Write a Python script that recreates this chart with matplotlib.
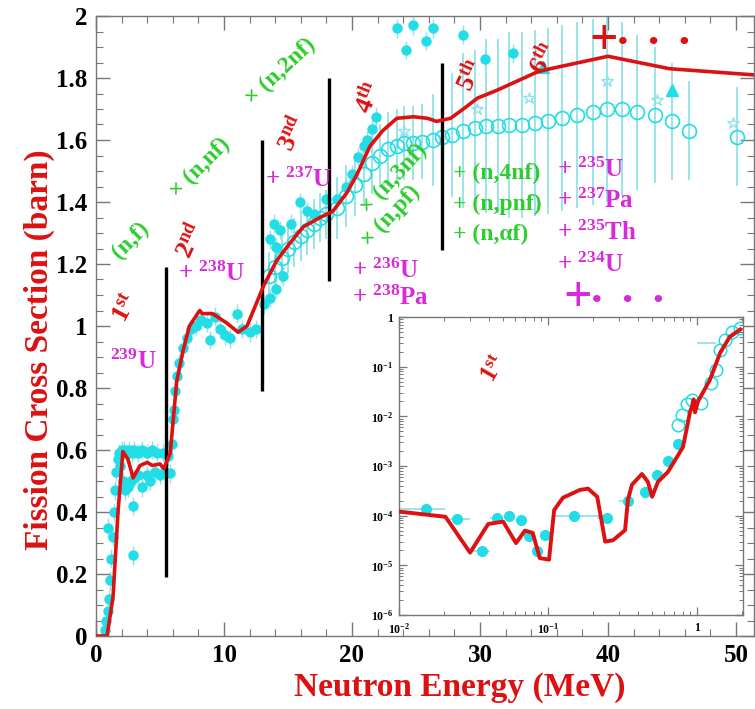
import math
import matplotlib
matplotlib.use('Agg')
import matplotlib.pyplot as plt
from matplotlib.ticker import MultipleLocator, FuncFormatter, LogLocator, NullFormatter, FixedLocator

plt.rcParams['font.family'] = ['Liberation Serif', 'DejaVu Serif']
plt.rcParams['font.weight'] = 'bold'
plt.rcParams['mathtext.fontset'] = 'custom'
plt.rcParams['mathtext.rm'] = 'Liberation Serif:bold'
plt.rcParams['mathtext.bf'] = 'Liberation Serif:bold'
plt.rcParams['mathtext.it'] = 'Liberation Serif:bold:italic'
plt.rcParams['mathtext.default'] = 'rm'

RED = '#dd1111'
CYAN = '#22dde6'
CYAN_BAR = '#8fe3e8'
GREEN = '#2ecc2e'
MAGENTA = '#d92ad9'
SPINE = '#777777'

# ---------------- main panel data ----------------
calc_E = [0.0, 0.86, 1.33, 1.72, 2.1, 2.5, 2.9, 3.44, 4.0, 4.4, 5.0, 5.3, 5.8, 6.3, 6.8,
          7.3, 8.1, 8.3, 9.1, 10.2, 11.1, 11.8, 12.6, 12.8, 13.1, 14.1, 15.2, 16.2, 17.5,
          18.5, 19.6, 20.4, 21.4, 22.4, 23.5, 24.8, 25.9, 26.6, 27.7, 28.7, 29.8, 31.3,
          32.9, 34.5, 35.5, 40.0, 44.8, 51.4]
calc_sig = [0.0, 0.0, 0.126, 0.40, 0.595, 0.57, 0.51, 0.55, 0.56, 0.55, 0.555, 0.54, 0.59,
            0.82, 0.92, 1.00, 1.05, 1.04, 1.04, 1.01, 0.98, 1.00, 1.08, 1.10, 1.13, 1.21,
            1.27, 1.32, 1.35, 1.37, 1.43, 1.49, 1.58, 1.63, 1.67, 1.675, 1.67, 1.66, 1.67,
            1.70, 1.735, 1.76, 1.79, 1.82, 1.83, 1.87, 1.83, 1.81]

fill_E = [0.7, 0.8, 0.9, 1.0, 1.1, 0.95, 1.2, 1.3, 1.4, 1.5, 1.6, 1.7, 1.8, 2.0, 2.2, 2.4,
          2.6, 2.8, 3.0, 3.3, 3.6, 4.0, 4.4, 4.8, 5.2, 5.6,
          1.9, 2.1, 2.3, 2.5, 2.7, 3.0, 3.3, 3.6, 4.0, 4.2, 4.6, 5.0, 5.4, 5.8,
          2.9, 2.9,
          5.9, 6.0, 6.1, 6.2, 6.3, 6.5, 6.8, 7.1, 7.4, 7.8, 8.2, 8.7, 8.9, 9.3, 9.7, 10.1,
          10.5, 11.0, 11.4, 12.0, 12.5, 13.1, 13.6, 14.1, 14.6,
          13.6, 13.9, 14.1, 14.4, 15.2, 15.9, 16.5, 17.0, 18.0, 18.8, 19.5, 20.0, 20.5,
          20.9, 21.2, 21.6, 21.9,
          23.5, 24.8, 26.3, 24.2, 25.8, 28.7, 30.4, 32.6]
fill_sig = [0.02, 0.05, 0.08, 0.12, 0.18, 0.35, 0.25, 0.32, 0.40, 0.47, 0.53, 0.57, 0.59,
            0.60, 0.60, 0.59, 0.60, 0.59, 0.60, 0.59, 0.60, 0.59, 0.60, 0.59, 0.59, 0.58,
            0.55, 0.50, 0.47, 0.48, 0.50, 0.51, 0.52, 0.48, 0.52, 0.50, 0.53, 0.52, 0.53,
            0.525,
            0.42, 0.26,
            0.62, 0.70, 0.73, 0.79, 0.84, 0.88, 0.93, 0.96, 0.99, 1.00, 1.02, 1.01, 0.955,
            1.03, 0.99, 0.97, 0.96, 1.04, 0.99, 0.98, 0.99, 1.07, 1.09, 1.12, 1.16,
            1.28, 1.33, 1.255, 1.31, 1.33, 1.40, 1.37, 1.36, 1.41, 1.41, 1.45, 1.49, 1.545,
            1.58, 1.60, 1.635, 1.675,
            1.96, 1.97, 1.96, 1.89, 1.92, 1.94, 1.86, 1.88]

open_E = [13.5, 14.0, 14.5, 15.0, 15.5, 16.0, 16.5, 17.0, 17.5, 18.0, 18.8, 19.5, 20.2,
          20.9, 21.6, 22.2, 22.8, 23.5, 24.1, 24.8, 25.5, 26.3, 27.0, 27.8, 28.7, 29.6,
          30.5, 31.4, 32.3, 33.3, 34.3, 35.3, 36.4, 37.6, 38.8, 39.9, 41.1, 42.3, 43.7,
          45.0, 46.3, 50.1]
open_sig = [1.16, 1.19, 1.22, 1.25, 1.27, 1.29, 1.31, 1.33, 1.35, 1.36, 1.38, 1.42, 1.455,
            1.49, 1.525, 1.55, 1.57, 1.58, 1.59, 1.59, 1.595, 1.60, 1.61, 1.615, 1.63, 1.64,
            1.645, 1.645, 1.65, 1.65, 1.655, 1.66, 1.67, 1.68, 1.69, 1.70, 1.70, 1.69, 1.68,
            1.66, 1.63, 1.61]
open_err = [0.08, 0.08, 0.08, 0.08, 0.08, 0.08, 0.08, 0.08, 0.08, 0.08, 0.10, 0.10, 0.10,
            0.10, 0.10, 0.10, 0.12, 0.12, 0.12, 0.12, 0.12, 0.15, 0.15, 0.20, 0.25, 0.25,
            0.28, 0.28, 0.30, 0.30, 0.30, 0.30, 0.30, 0.30, 0.30, 0.30, 0.28, 0.25, 0.22,
            0.19, 0.16, 0.16]

star_E = [24.1, 29.8, 33.8, 39.9, 43.8, 49.8]
star_sig = [1.63, 1.70, 1.735, 1.79, 1.73, 1.655]
tri_E = [34.9, 45.0]
tri_sig = [1.835, 1.76]

threshold_E = [5.5, 13.0, 18.2, 27.0]
threshold_lo = [0.19, 0.79, 1.145, 1.245]
threshold_hi = [1.19, 1.60, 1.80, 1.85]

x_ticks = [0, 10, 20, 30, 40, 50]
y_ticks = [0, 0.2, 0.4, 0.6, 0.8, 1.0, 1.2, 1.4, 1.6, 1.8, 2.0]

# ---------------- inset data ----------------
in_calc_E = [0.0102, 0.0205, 0.030, 0.0397, 0.050, 0.061, 0.070, 0.079, 0.088, 0.1016,
             0.11, 0.126, 0.164, 0.186, 0.214, 0.242, 0.273, 0.329, 0.344, 0.366, 0.427,
             0.468, 0.50, 0.547, 0.638, 0.805, 0.897, 0.92, 0.95, 0.97, 1.016, 1.22, 1.43,
             1.66, 1.95]
in_calc_sig = [1.2e-4, 9.5e-5, 1.8e-5, 6.8e-5, 7.6e-5, 2.8e-5, 5.0e-5, 4.5e-5, 1.4e-5,
               1.3e-5, 1.3e-4, 2.3e-4, 3.3e-4, 3.5e-4, 2.4e-4, 3.0e-5, 3.2e-5, 5.1e-5,
               2.1e-4, 4.2e-4, 6.9e-4, 4.8e-4, 2.4e-4, 4.8e-4, 7.6e-4, 2.4e-3, 1.2e-2,
               1.5e-2, 2.2e-2, 1.2e-2, 2.0e-2, 5.4e-2, 1.9e-1, 4.0e-1, 5.6e-1]

in_fill_E = [0.0151, 0.0245, 0.036, 0.0457, 0.055, 0.066, 0.0746, 0.0843, 0.0955, 0.149,
             0.249, 0.344, 0.447, 0.537, 0.638, 0.745]
in_fill_sig = [1.35e-4, 8.5e-5, 1.95e-5, 8.9e-5, 1.0e-4, 8.3e-5, 3.9e-5, 1.9e-5, 4.1e-5,
               1.0e-4, 8.9e-5, 2.0e-4, 3.0e-4, 6.6e-4, 1.26e-3, 2.75e-3]
in_fill_Elo = [0.0100, 0.0220, 0.0314, 0.041, 0.055, 0.066, 0.0746, 0.0843, 0.0955, 0.111,
               0.214, 0.300, 0.447, 0.537, 0.638, 0.745]
in_fill_Ehi = [0.0205, 0.0300, 0.0408, 0.050, 0.055, 0.066, 0.0746, 0.0843, 0.0955, 0.249,
               0.270, 0.350, 0.447, 0.537, 0.638, 0.745]

in_open_E = [0.749, 0.789, 0.853, 0.921, 1.07, 1.25, 1.35, 1.42, 1.54, 1.71, 1.94]
in_open_sig = [6.7e-3, 1.07e-2, 1.8e-2, 2.1e-2, 1.86e-2, 4.7e-2, 8.5e-2, 0.22, 0.35, 0.50, 0.59]
in_bar_E = [1.17]
in_bar_sig = [0.30]
in_bar_lo = [1.0]
in_bar_hi = [1.35]

# ---------------- figure ----------------
W, H = 755, 709
fig = plt.figure(figsize=(W / 100, H / 100), dpi=100)
X0, X1, Y0, Y1 = 96, 754, 636, 16
ax = fig.add_axes([X0 / W, (H - Y0) / H, (X1 - X0) / W, (Y0 - Y1) / H])
ax.set_xlim(0, (X1 - X0) / 12.8)
ax.set_ylim(0, 2)


def P(px, py):
    """pixel position of the reference -> data coordinates of the main axes"""
    return (px - X0) / 12.8, (Y0 - py) / 310.0


# open circles with error bars
ax.errorbar(open_E, open_sig, yerr=open_err, fmt='none', ecolor=CYAN_BAR, elinewidth=1.3,
            zorder=1)
ax.plot(open_E, open_sig, 'o', mfc='none', mec=CYAN, mew=1.2, ms=10, zorder=2)
# filled circles
ax.errorbar(fill_E, fill_sig, yerr=0.03, fmt='none', ecolor=CYAN_BAR, elinewidth=1.0,
            zorder=1)
ax.plot(fill_E, fill_sig, 'o', color=CYAN, ms=6.5, mec=CYAN, zorder=3)
ax.plot(star_E, star_sig, '*', mfc='none', mec=CYAN_BAR, mew=1.0, ms=9, zorder=2)
ax.plot(tri_E, tri_sig, '^', color=CYAN, ms=8, zorder=3)

# threshold lines
ax.vlines(threshold_E, threshold_lo, threshold_hi, colors='black', lw=2.4, zorder=4)
# calculation
ax.plot(calc_E, calc_sig, '-', color=RED, lw=2.6, zorder=5)

# ticks
ax.xaxis.set_major_locator(FixedLocator(x_ticks))
ax.xaxis.set_minor_locator(MultipleLocator(2))
ax.yaxis.set_major_locator(FixedLocator(y_ticks))
ax.yaxis.set_minor_locator(MultipleLocator(0.05))
ax.yaxis.set_major_formatter(FuncFormatter(lambda v, p: '%g' % v))
ax.tick_params(which='both', direction='in', top=True, right=True, colors=SPINE,
               labelcolor='black')
ax.tick_params(which='major', length=10, width=1.0, labelsize=18, pad=6)
ax.tick_params(which='minor', length=5, width=0.8)
for s in ax.spines.values():
    s.set_color(SPINE)
    s.set_linewidth(1.0)

ax.set_xlabel('Neutron Energy (MeV)', color=RED, fontsize=24, fontweight='bold')
ax.xaxis.set_label_coords((460 - X0) / (X1 - X0), -0.058)
ax.set_ylabel('Fission Cross Section (barn)', color=RED, fontsize=24, fontweight='bold')
ax.yaxis.set_label_coords(-0.062, (Y0 - 350) / (Y0 - Y1))


# annotations
def rtext(px, py, s, color, size, rot):
    x, y = P(px, py)
    ax.text(x, y, s, color=color, fontsize=size, fontweight='bold', rotation=rot,
            ha='center', va='center', rotation_mode='anchor', zorder=6)


def ltext(px, py, s, color, size):
    x, y = P(px, py)
    ax.text(x, y, s, color=color, fontsize=size, fontweight='bold', ha='left',
            va='baseline', zorder=6)


rtext(131, 240, '(n,f)', GREEN, 17, 45)
rtext(200, 168, '× (n,nf)', GREEN, 17, 45)
rtext(281, 72, '× (n,2nf)', GREEN, 17, 43)
rtext(394, 179, '× (n,3nf)', GREEN, 17, 47)
rtext(391, 216, '× (n,pf)', GREEN, 17, 47)

rtext(125, 308, r'1$^{st}$', RED, 19, 62)
rtext(190, 240, r'2$^{nd}$', RED, 19, 65)
rtext(292, 133, r'3$^{nd}$', RED, 19, 65)
rtext(368, 97, r'4$^{th}$', RED, 19, 68)
rtext(470, 75, r'5$^{th}$', RED, 19, 65)
rtext(543, 58, r'6$^{th}$', RED, 19, 62)

rtext(133, 362, r'$^{239}$U', MAGENTA, 18, 0)
ltext(178, 281, r'+ $^{238}$U', MAGENTA, 18)
ltext(265, 187, r'+ $^{237}$U', MAGENTA, 18)
ltext(352, 278, r'+ $^{236}$U', MAGENTA, 18)
ltext(352, 305, r'+ $^{238}$Pa', MAGENTA, 18)

ltext(453, 179, '+ (n,4nf)', GREEN, 17)
ltext(453, 210, '+ (n,pnf)', GREEN, 17)
ltext(453, 240, '+ (n,αf)', GREEN, 17)

ltext(557, 177, r'+ $^{235}$U', MAGENTA, 18)
ltext(557, 208, r'+ $^{237}$Pa', MAGENTA, 18)
ltext(557, 240, r'+ $^{235}$Th', MAGENTA, 18)
ltext(557, 272, r'+ $^{234}$U', MAGENTA, 18)

rtext(578, 299, '+', MAGENTA, 36, 0)
rtext(628, 301, '•   •   •', MAGENTA, 20, 0)
rtext(604, 42, '+', RED, 36, 0)
rtext(654, 44, '•   •   •', RED, 20, 0)

# ---------------- inset ----------------
IX0, IX1, IY0, IY1 = 399, 743, 615, 317
axi = fig.add_axes([IX0 / W, (H - IY0) / H, (IX1 - IX0) / W, (IY0 - IY1) / H])
axi.set_xscale('log')
axi.set_yscale('log')
axi.set_xlim(0.01, 10 ** ((IX1 - IX0) / 149.0 - 2))
axi.set_ylim(1e-6, 1)
axi.set_facecolor('white')

xerr_lo = [e - l for e, l in zip(in_fill_E, in_fill_Elo)]
xerr_hi = [h - e for e, h in zip(in_fill_E, in_fill_Ehi)]
axi.errorbar(in_fill_E, in_fill_sig, xerr=[xerr_lo, xerr_hi], fmt='none', ecolor=CYAN_BAR,
             elinewidth=1.3, zorder=1)
axi.errorbar(in_bar_E, in_bar_sig, xerr=[[e - l for e, l in zip(in_bar_E, in_bar_lo)],
                                         [h - e for e, h in zip(in_bar_E, in_bar_hi)]],
             fmt='none', ecolor=CYAN_BAR, elinewidth=1.3, zorder=1)
axi.plot(in_fill_E, in_fill_sig, 'o', color=CYAN, ms=7, zorder=2)
axi.plot(in_open_E, in_open_sig, 'o', mfc='none', mec=CYAN, mew=1.1, ms=9, zorder=2)
axi.plot(in_calc_E, in_calc_sig, '-', color=RED, lw=2.8, zorder=4)

axi.text(0.044, 0.09, r'1$^{st}$', color=RED, fontsize=18, fontweight='bold', rotation=60,
         ha='center', va='center', rotation_mode='anchor')


def logfmt(v, p):
    if abs(v - 1) < 1e-9:
        return '1'
    e = int(round(math.log10(v)))
    return r'$10^{%d}$' % e


axi.xaxis.set_major_locator(LogLocator(base=10, numticks=10))
axi.yaxis.set_major_locator(LogLocator(base=10, numticks=10))
axi.xaxis.set_minor_locator(LogLocator(base=10, subs=range(2, 10), numticks=20))
axi.yaxis.set_minor_locator(LogLocator(base=10, subs=range(2, 10), numticks=20))
axi.xaxis.set_major_formatter(FuncFormatter(logfmt))
axi.yaxis.set_major_formatter(FuncFormatter(logfmt))
axi.xaxis.set_minor_formatter(NullFormatter())
axi.yaxis.set_minor_formatter(NullFormatter())
axi.tick_params(which='both', direction='in', top=True, right=True, colors=SPINE,
                labelcolor='black')
axi.tick_params(which='major', length=6, width=0.9, labelsize=8.5)
axi.tick_params(axis='x', which='major', pad=5)
axi.tick_params(axis='y', which='major', pad=4)
axi.tick_params(which='minor', length=3, width=0.7)
for s in axi.spines.values():
    s.set_color(SPINE)
    s.set_linewidth(1.0)

fig.savefig('out.png', dpi=100)
